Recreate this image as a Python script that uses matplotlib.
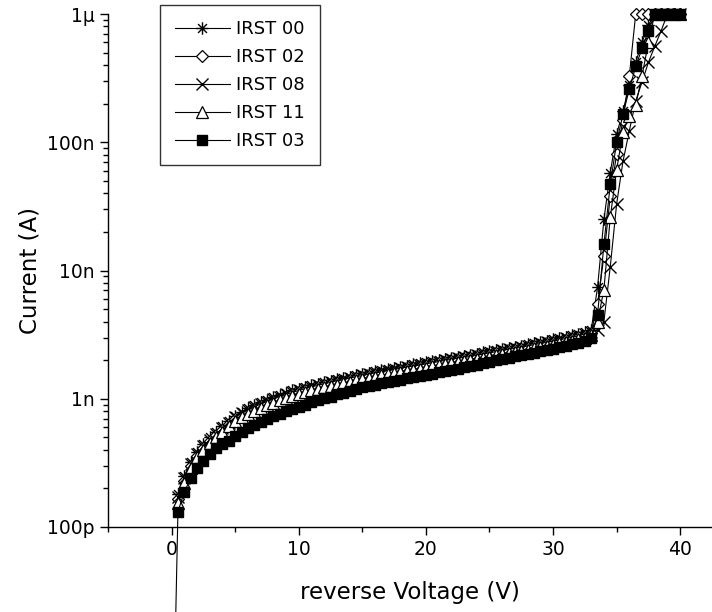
import numpy as np
import matplotlib
matplotlib.use('Agg')
import matplotlib.pyplot as plt
from matplotlib.path import Path
from matplotlib.ticker import FixedLocator, LogLocator, NullFormatter

plt.rcParams['font.family'] = 'DejaVu Sans'

# reverse voltage sweep (V)
voltage = [0.5, 1.0, 1.5, 2.0, 2.5, 3.0, 3.5, 4.0, 4.5, 5.0,
           5.5, 6.0, 6.5, 7.0, 7.5, 8.0, 8.5, 9.0, 9.5, 10.0,
           10.5, 11.0, 11.5, 12.0, 12.5, 13.0, 13.5, 14.0, 14.5, 15.0,
           15.5, 16.0, 16.5, 17.0, 17.5, 18.0, 18.5, 19.0, 19.5, 20.0,
           20.5, 21.0, 21.5, 22.0, 22.5, 23.0, 23.5, 24.0, 24.5, 25.0,
           25.5, 26.0, 26.5, 27.0, 27.5, 28.0, 28.5, 29.0, 29.5, 30.0,
           30.5, 31.0, 31.5, 32.0, 32.5, 33.0, 33.5, 34.0, 34.5, 35.0,
           35.5, 36.0, 36.5, 37.0, 37.5, 38.0, 38.5, 39.0, 39.5, 40.0]

# currents in nA
irst00 = [0.18, 0.25, 0.32, 0.385, 0.44, 0.50, 0.55, 0.61, 0.67, 0.74,
          0.79, 0.84, 0.89, 0.94, 0.98, 1.03, 1.07, 1.11, 1.16, 1.20,
          1.24, 1.28, 1.31, 1.35, 1.38, 1.42, 1.45, 1.49, 1.53, 1.57,
          1.60, 1.64, 1.67, 1.71, 1.74, 1.78, 1.81, 1.85, 1.89, 1.93,
          1.97, 2.01, 2.05, 2.09, 2.13, 2.17, 2.21, 2.25, 2.30, 2.35,
          2.40, 2.45, 2.50, 2.55, 2.60, 2.66, 2.72, 2.78, 2.84, 2.90,
          2.97, 3.04, 3.12, 3.20, 3.30, 3.45, 7.4, 25, 58, 115,
          175, 280, 420, 600, 820, 1000, 1000, 1000, 1000, 1000]

irst02 = [0.165, 0.23, 0.30, 0.36, 0.41, 0.47, 0.52, 0.57, 0.63, 0.69,
          0.74, 0.79, 0.83, 0.88, 0.92, 0.96, 1.00, 1.04, 1.08, 1.12,
          1.16, 1.20, 1.23, 1.27, 1.30, 1.33, 1.36, 1.40, 1.44, 1.47,
          1.50, 1.54, 1.57, 1.60, 1.63, 1.67, 1.70, 1.74, 1.77, 1.81,
          1.85, 1.89, 1.93, 1.96, 2.00, 2.04, 2.08, 2.12, 2.16, 2.21,
          2.26, 2.30, 2.35, 2.40, 2.45, 2.50, 2.56, 2.61, 2.67, 2.73,
          2.79, 2.86, 2.93, 3.01, 3.10, 3.25, 5.5, 13, 38, 81,
          150, 330, 1000, 1000, 1000, 1000, 1000, 1000, 1000, 1000]

irst08 = [0.17, 0.24, 0.31, 0.37, 0.43, 0.48, 0.53, 0.59, 0.65, 0.72,
          0.77, 0.82, 0.86, 0.91, 0.95, 1.00, 1.04, 1.08, 1.12, 1.16,
          1.20, 1.24, 1.27, 1.31, 1.34, 1.38, 1.41, 1.45, 1.48, 1.52,
          1.55, 1.59, 1.62, 1.66, 1.69, 1.73, 1.76, 1.80, 1.83, 1.87,
          1.91, 1.95, 1.99, 2.03, 2.07, 2.10, 2.14, 2.18, 2.23, 2.28,
          2.33, 2.38, 2.43, 2.47, 2.52, 2.58, 2.64, 2.70, 2.75, 2.81,
          2.88, 2.95, 3.02, 3.10, 3.20, 3.30, 3.45, 4.0, 10.7, 33,
          71, 123, 210, 295, 420, 560, 740, 1000, 1000, 1000]

irst11 = [0.155, 0.22, 0.29, 0.35, 0.40, 0.45, 0.50, 0.55, 0.61, 0.67,
          0.72, 0.76, 0.80, 0.85, 0.89, 0.93, 0.97, 1.01, 1.05, 1.09,
          1.12, 1.16, 1.19, 1.23, 1.26, 1.29, 1.32, 1.35, 1.39, 1.42,
          1.45, 1.49, 1.52, 1.55, 1.58, 1.61, 1.64, 1.68, 1.71, 1.75,
          1.79, 1.82, 1.86, 1.90, 1.93, 1.97, 2.01, 2.05, 2.09, 2.13,
          2.18, 2.22, 2.27, 2.32, 2.37, 2.42, 2.47, 2.52, 2.58, 2.63,
          2.70, 2.76, 2.83, 2.91, 3.00, 3.15, 4.0, 7.1, 26, 61,
          120, 160, 195, 330, 600, 1000, 1000, 1000, 1000, 1000]

# IRST 03 also has a reading at 0 V, far below the axis
irst03_v0 = 0.0006
irst03 = [0.132, 0.187, 0.24, 0.29, 0.33, 0.37, 0.41, 0.44, 0.47, 0.51,
          0.55, 0.59, 0.62, 0.66, 0.69, 0.73, 0.76, 0.80, 0.83, 0.87,
          0.90, 0.94, 0.97, 1.01, 1.04, 1.08, 1.11, 1.15, 1.19, 1.23,
          1.26, 1.29, 1.32, 1.35, 1.38, 1.41, 1.44, 1.47, 1.50, 1.54,
          1.57, 1.61, 1.64, 1.68, 1.72, 1.76, 1.80, 1.84, 1.89, 1.94,
          1.99, 2.04, 2.09, 2.14, 2.19, 2.24, 2.29, 2.34, 2.39, 2.45,
          2.52, 2.59, 2.66, 2.74, 2.82, 3.00, 4.5, 16, 47, 100,
          165, 260, 390, 540, 740, 1000, 1000, 1000, 1000, 1000]

labels = ['IRST 00', 'IRST 02', 'IRST 08', 'IRST 11', 'IRST 03']
ytick_vals = [1e-10, 1e-9, 1e-8, 1e-7, 1e-6]
ytick_labels = ['100p', '1n', '10n', '100n', '1\u00b5']

# asterisk marker: + and x together
star = Path([(-1, 0), (1, 0), (0, -1), (0, 1),
             (-0.71, -0.71), (0.71, 0.71), (-0.71, 0.71), (0.71, -0.71)],
            [Path.MOVETO, Path.LINETO] * 4)

v = np.array(voltage)
fig = plt.figure(figsize=(7.12, 6.12), dpi=100)
ax = fig.add_axes([108/712, 85/612, 604/712, 513/612])

common = dict(color='black', lw=0.8, clip_on=False)
ax.plot(v, np.array(irst00)*1e-9, marker=star, ms=9, mew=1.0, label=labels[0], **common)
ax.plot(v, np.array(irst02)*1e-9, marker='D', ms=6.5, mfc='white', mew=0.9, label=labels[1], **common)
ax.plot(v, np.array(irst08)*1e-9, marker='x', ms=8, mew=1.0, label=labels[2], **common)
ax.plot(v, np.array(irst11)*1e-9, marker='^', ms=8, mfc='white', mew=0.9, label=labels[3], **common)
ax.plot(np.r_[0.0, v], np.array([irst03_v0] + irst03)*1e-9, marker='s', ms=7,
        mfc='black', label=labels[4], **common)

ax.set_yscale('log')
ax.set_ylim(1e-10, 1e-6)
ax.set_xlim(-5, 42.5)
ax.yaxis.set_major_locator(FixedLocator(ytick_vals))
ax.set_yticklabels(ytick_labels)
ax.yaxis.set_minor_locator(LogLocator(base=10, subs=np.arange(2, 10)))
ax.yaxis.set_minor_formatter(NullFormatter())
ax.set_xticks([0, 10, 20, 30, 40])
ax.set_xticks([-5, 5, 15, 25, 35], minor=True)

for s in ['top', 'right']:
    ax.spines[s].set_visible(False)
for s in ['left', 'bottom']:
    ax.spines[s].set_linewidth(1.0)
ax.tick_params(which='major', direction='out', length=6, width=1.0, labelsize=13.5)
ax.tick_params(which='minor', direction='out', length=3.5, width=1.0)

ax.set_xlabel('reverse Voltage (V)', fontsize=16.5, labelpad=16)
ax.set_ylabel('Current (A)', fontsize=16.5, labelpad=4)

leg = ax.legend(loc='upper left', bbox_to_anchor=(52/604, 1.0 + 9/513), fontsize=13,
                frameon=True, fancybox=False, edgecolor='black', handlelength=3.0,
                labelspacing=0.55, borderpad=0.85, handletextpad=0.35,
                borderaxespad=0.0)
leg.get_frame().set_linewidth(1.0)

fig.savefig('out.png', dpi=100)
